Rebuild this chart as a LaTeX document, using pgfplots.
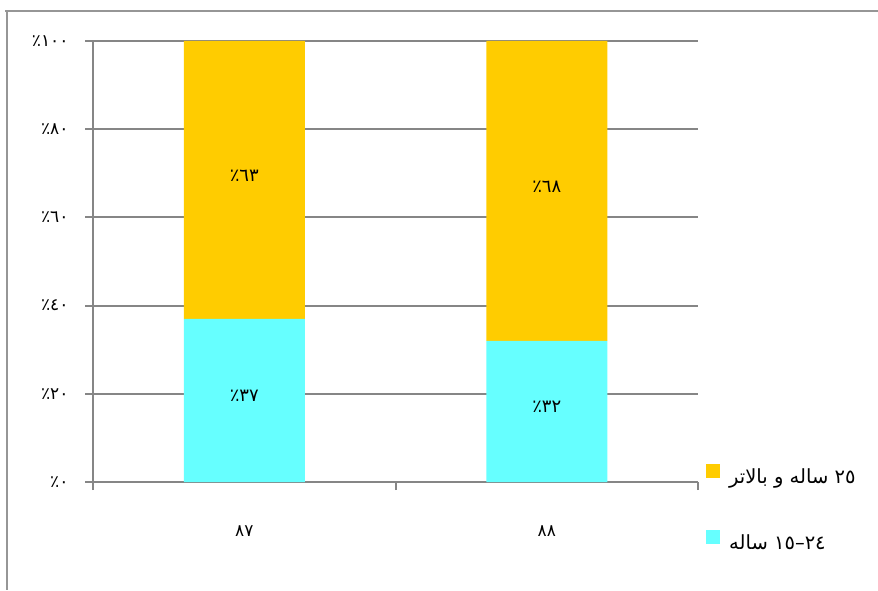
\documentclass[border=0pt]{standalone}
\usepackage{fontspec}
\usepackage{pgfplots}
\pgfplotsset{compat=1.18}
\TeXXeTstate=1
\newfontfamily\arabicfont[Script=Arabic]{DejaVu Sans}
\definecolor{gold}{RGB}{255,204,0}
\definecolor{aqua}{RGB}{102,255,255}
\definecolor{gridgray}{RGB}{134,134,134}
\definecolor{framegray}{RGB}{150,150,150}
\newcommand{\pc}[1]{٪\kern0pt#1}
\begin{document}
\begin{tikzpicture}[x=1pt,y=1pt]
\useasboundingbox (0,0) rectangle (878,590);
\draw[framegray, line width=2.5pt] (5,579) -- (878,579);
\draw[framegray, line width=2.5pt] (7,579) -- (7,0);
\begin{axis}[
  at={(93pt,108pt)}, anchor=south west,
  scale only axis, width=605pt, height=441pt,
  ybar stacked, bar width=0.4,
  xmin=-0.5, xmax=1.5, ymin=0, ymax=100,
  axis x line*=bottom, axis y line*=left,
  axis line style={gridgray, line width=2pt},
  ymajorgrids, grid style={gridgray, line width=2pt},
  tick align=outside, major tick length=8pt,
  tick style={gridgray, line width=2pt},
  ytick={0,20,40,60,80,100},
  yticklabels={\pc{٠},\pc{٢٠},\pc{٤٠},\pc{٦٠},\pc{٨٠},\pc{١٠٠}},
  xtick={-0.5,0.5,1.5}, xticklabels={},
  extra x ticks={0,1}, extra x tick labels={٨٧,٨٨},
  extra x tick style={major tick length=0pt, xticklabel style={yshift=-40pt}},
  ticklabel style={font=\arabicfont\fontsize{17}{20}\selectfont, text=black},
  yticklabel style={xshift=-13pt},
  reverse legend,
  legend style={at={(axis description cs:1.0132,0.041)}, anchor=north west,
    draw=none, fill=none, inner sep=0pt, row sep=43pt,
    font=\arabicfont\fontsize{19.5}{22}\selectfont,
    /tikz/every odd column/.append style={column sep=7pt}},
  legend cell align=left,
  legend image code/.code={\fill[#1] (0pt,-1pt) rectangle (14pt,13pt);},
]
\addplot[fill=aqua, draw=none] coordinates {(0,37) (1,32)};
\addlegendentry{\beginR\beginL١٥\kern0pt–\kern0pt٢٤\endL{} ساله\endR}
\addplot[fill=gold, draw=none] coordinates {(0,63) (1,68)};
\addlegendentry{\beginR\beginL٢٥\endL{} ساله و بالاتر\endR}
\end{axis}
\begin{axis}[
  at={(93pt,108pt)}, anchor=south west,
  scale only axis, width=605pt, height=441pt,
  xmin=-0.5, xmax=1.5, ymin=0, ymax=100,
  hide axis,
]
\addplot[draw=none, mark=none, nodes near coords, point meta=explicit symbolic,
  every node near coord/.append style={anchor=center, text=black,
    font=\arabicfont\fontsize{18}{21}\selectfont}]
  coordinates {(0,19.5) [\pc{٣٧}] (1,17) [\pc{٣٢}] (0,69.5) [\pc{٦٣}] (1,67) [\pc{٦٨}]};
\end{axis}
\end{tikzpicture}
\end{document}
